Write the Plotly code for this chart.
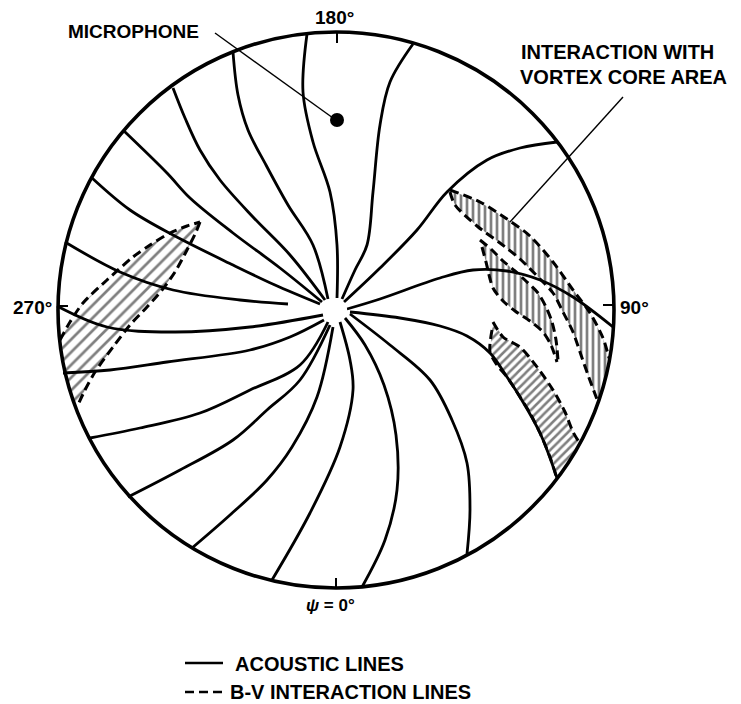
import plotly.graph_objects as go

# ---- diagram geometry (pixel frame of the reference) ----
CX, CY, R = 336, 310, 278
HUB_R = 11
PAGE_OFFSET = 8          # the page body margin in front of the figure

# ---- acoustic lines: points (image x, image y) ----
acoustic_01 = [(337, 298), (337, 245), (330, 192), (313, 142), (303, 92), (307, 34)]
acoustic_02 = [(328, 299), (313, 245), (288, 205), (266, 165), (248, 130), (238, 95), (233, 52)]
acoustic_03 = [(325, 300), (290, 255), (253, 217), (220, 180), (200, 150), (185, 118), (173, 88)]
acoustic_04 = [(322, 302), (280, 268), (233, 233), (190, 198), (167, 173), (124, 131)]
acoustic_05 = [(320, 304), (275, 285), (233, 265), (173, 235), (130, 210), (92, 178)]
acoustic_06 = [(288, 304), (240, 300), (173, 290), (120, 272), (65, 242)]
acoustic_07 = [(323, 315), (250, 327), (173, 332), (107, 327), (57, 306)]
acoustic_08 = [(324, 320), (290, 337), (250, 350), (167, 362), (110, 370), (63, 373)]
acoustic_09 = [(328, 322), (300, 365), (250, 390), (200, 413), (140, 428), (90, 438)]
acoustic_10 = [(330, 325), (300, 380), (267, 410), (233, 440), (180, 470), (128, 497)]
acoustic_11 = [(333, 327), (317, 397), (292, 447), (267, 480), (230, 515), (192, 548)]
acoustic_12 = [(340, 322), (350, 360), (353, 390), (340, 447), (310, 513), (272, 580)]
acoustic_13 = [(345, 318), (365, 345), (384, 385), (396, 435), (397, 490), (385, 540), (362, 587)]
acoustic_14 = [(350, 314), (390, 345), (430, 380), (452, 420), (467, 463), (470, 510), (467, 554)]
acoustic_15 = [(350, 312), (400, 318), (440, 326), (467, 336), (490, 353), (507, 377), (520, 397),
               (540, 433), (557, 478)]
acoustic_16 = [(347, 309), (380, 299), (440, 278), (473, 270), (507, 271), (540, 280), (573, 297),
               (613, 327)]
acoustic_17 = [(344, 302), (380, 268), (417, 230), (447, 192), (487, 160), (520, 148), (557, 142)]
acoustic_18 = [(342, 299), (355, 270), (367, 245), (373, 192), (380, 125), (390, 82), (413, 44)]

# ---- B-V interaction bands (hatched) ----
left_upper = [(60, 340), (70, 322), (83, 303), (107, 280), (133, 257), (150, 245), (170, 233),
              (187, 226), (200, 222)]
left_lower = [(200, 222), (196, 232), (187, 250), (175, 272), (162, 290), (147, 307), (130, 325),
              (113, 347), (95, 372), (85, 390), (77, 407)]
left_rim = [(68, 385), (63, 362)]

a_upper = [(450, 190), (480, 202), (507, 219), (530, 236), (553, 262), (573, 290), (590, 313),
           (603, 338), (609, 358)]
a_rim = [(606, 375), (602, 390), (598, 402)]
a_lower = [(450, 192), (455, 205), (477, 226), (500, 243), (520, 259), (540, 279), (553, 293),
           (563, 312), (573, 332), (580, 352), (588, 375), (598, 402)]

b_upper = [(480, 240), (492, 250), (503, 261), (515, 271), (527, 282), (538, 293), (546, 307),
           (552, 322), (556, 340), (558, 360)]
b_lower = [(482, 247), (486, 262), (493, 288), (503, 301), (515, 311), (530, 321), (543, 332),
           (551, 345), (557, 362)]

c_upper = [(493, 322), (503, 337), (520, 347), (537, 367), (553, 390), (565, 412), (573, 432),
           (579, 442)]
c_rim = [(575, 452), (569, 462), (563, 471), (557, 479)]
c_lower = [(492, 330), (490, 352), (497, 365), (507, 377), (520, 397), (530, 413), (540, 433),
           (550, 457), (557, 479)]

# ---- marks ----
microphone = (337, 120)
mic_pointer = [(215, 33), (333, 118)]
core_pointer = [(623, 97), (510, 222)]
ticks = [[(337, 32), (337, 43)], [(336, 578), (336, 588)], [(603, 305), (615, 305)],
         [(57, 306), (68, 306)]]

# ---- texts ----
label_mic = "MICROPHONE"
label_core = ["INTERACTION WITH", "VORTEX CORE AREA"]
angle_labels = [("180°", 334, 17), ("270°", 32, 307), ("90°", 634, 307)]
psi_label = "<i>ψ</i> = 0°"
legend_texts = ["ACOUSTIC LINES", "B-V INTERACTION LINES"]


def xs(pts):
    return [p[0] - CX for p in pts]


def ys(pts):
    return [CY - p[1] for p in pts]


fig = go.Figure()


def band(poly, shape, size, solidity):
    fig.add_trace(go.Scatter(
        x=xs(poly), y=ys(poly), mode="lines", fill="toself",
        line=dict(width=0, color="rgba(0,0,0,0)"),
        fillcolor="rgba(255,255,255,0)",
        fillpattern=dict(shape=shape, size=size, solidity=solidity, fgcolor="black",
                         bgcolor="rgba(255,255,255,0)"),
        hoverinfo="skip", showlegend=False))


band(left_upper + left_lower[1:] + left_rim + left_upper[:1], "/", 9, 0.3)
band(a_upper + a_rim + a_lower[::-1], "|", 6, 0.45)
band(b_upper + b_lower[::-1], "|", 6, 0.45)
band(c_upper + c_rim + c_lower[::-1], "/", 6, 0.42)

# dashed B-V interaction lines
for pts in [left_upper, left_lower, a_upper, a_lower, b_upper, b_lower, c_upper, c_lower]:
    fig.add_trace(go.Scatter(
        x=xs(pts), y=ys(pts), mode="lines",
        line=dict(color="black", width=3, dash="9px,5px", shape="spline", smoothing=0.8),
        hoverinfo="skip", showlegend=False))

# acoustic lines
for pts in [acoustic_01, acoustic_02, acoustic_03, acoustic_04, acoustic_05, acoustic_06,
            acoustic_07, acoustic_08, acoustic_09, acoustic_10, acoustic_11, acoustic_12,
            acoustic_13, acoustic_14, acoustic_15, acoustic_16, acoustic_17, acoustic_18]:
    fig.add_trace(go.Scatter(
        x=xs(pts), y=ys(pts), mode="lines",
        line=dict(color="black", width=2.8, shape="spline", smoothing=1.0),
        hoverinfo="skip", showlegend=False))

# pointers and ticks
for pts in [mic_pointer, core_pointer]:
    fig.add_trace(go.Scatter(x=xs(pts), y=ys(pts), mode="lines",
                             line=dict(color="black", width=1.4),
                             hoverinfo="skip", showlegend=False))
for pts in ticks:
    fig.add_trace(go.Scatter(x=xs(pts), y=ys(pts), mode="lines",
                             line=dict(color="black", width=2),
                             hoverinfo="skip", showlegend=False))

fig.add_trace(go.Scatter(x=xs([microphone]), y=ys([microphone]), mode="markers",
                         marker=dict(size=14, color="black"),
                         hoverinfo="skip", showlegend=False))

# outer circle and hub
fig.add_shape(type="circle", xref="x", yref="y", x0=-R, x1=R, y0=-R, y1=R,
              line=dict(color="black", width=3.6))
fig.add_shape(type="circle", xref="x", yref="y", x0=-HUB_R, x1=HUB_R, y0=-HUB_R, y1=HUB_R,
              line=dict(color="white", width=0), fillcolor="white")

# legend samples
leg_solid = [(185, 663), (223, 663)]
leg_dash = [(185, 692), (225, 692)]
fig.add_trace(go.Scatter(x=xs(leg_solid), y=ys(leg_solid), mode="lines",
                         line=dict(color="black", width=2.4), hoverinfo="skip", showlegend=False))
fig.add_trace(go.Scatter(x=xs(leg_dash), y=ys(leg_dash), mode="lines",
                         line=dict(color="black", width=2.4, dash="9px,5px"),
                         hoverinfo="skip", showlegend=False))

FONT = "Liberation Sans, Arial, sans-serif"


def label(text, px, py, size, anchor="center"):
    fig.add_annotation(x=px - CX, y=CY - py, xref="x", yref="y", text=text, showarrow=False,
                       xanchor=anchor, yanchor="middle",
                       font=dict(family=FONT, size=size, color="black"))


label("<b>%s</b>" % label_mic, 133, 31, 19)
label("<b>%s</b>" % label_core[0], 519, 52, 20, "left")
label("<b>%s</b>" % label_core[1], 518, 77, 20, "left")
for t, px, py in angle_labels:
    label("<b>%s</b>" % t, px, py, 19)
label("<b>%s</b>" % psi_label, 330, 605, 17)
label("<b>%s</b>" % legend_texts[0], 233, 664, 20, "left")
label("<b>%s</b>" % legend_texts[1], 228, 692, 20, "left")

W, H = 741 - PAGE_OFFSET, 704 - PAGE_OFFSET
fig.update_layout(
    width=W, height=H, margin=dict(l=0, r=0, t=0, b=0),
    paper_bgcolor="white", plot_bgcolor="white", showlegend=False,
    xaxis=dict(range=[PAGE_OFFSET - CX, 741 - CX], visible=False, fixedrange=True),
    yaxis=dict(range=[CY - 704, CY - PAGE_OFFSET], visible=False, fixedrange=True),
)

fig.write_html("out.html")
